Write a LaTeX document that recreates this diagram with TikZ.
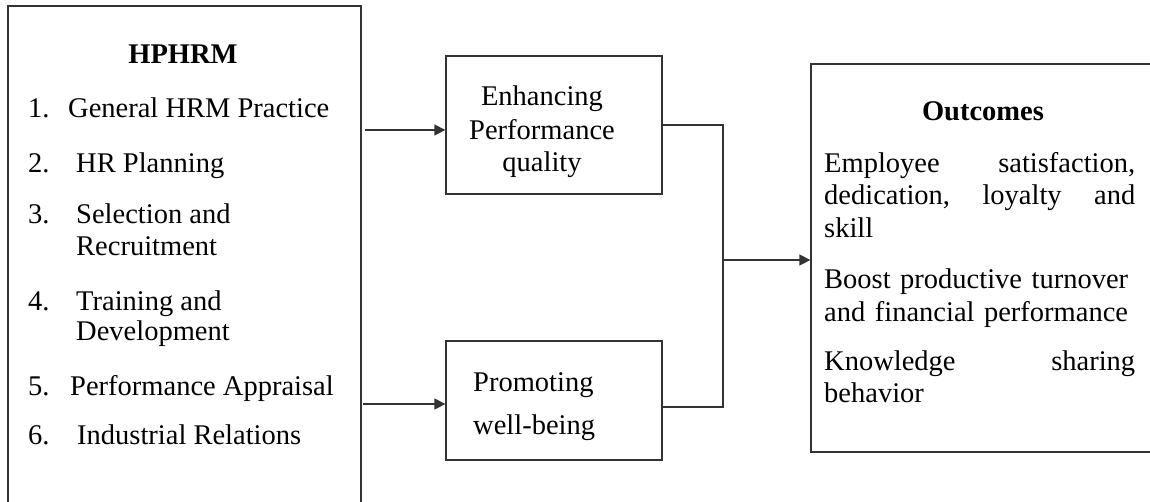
\documentclass[tikz,border=0pt]{standalone}
\usepackage{fontspec}
\setmainfont{Liberation Serif}
\usetikzlibrary{arrows.meta,calc}
\tikzset{
  boxline/.style={draw=black!80, line width=1.3pt},
  boxnode/.style={boxline, rectangle, inner sep=0pt},
  txt/.style={inner sep=0pt, anchor=base west, font=\fontsize{28.5}{33}\selectfont},
  ctxt/.style={inner sep=0pt, anchor=base, font=\fontsize{28.5}{33}\selectfont},
  btxt/.style={inner sep=0pt, anchor=base, font=\fontsize{28.5}{33}\selectfont\bfseries},
  jline/.style={txt, text width=311pt, align=left},
  conn/.style={draw=black!80, line width=1.3pt},
  arr/.style={conn, -{Triangle[length=11pt,width=11pt]}}
}
\begin{document}
\begin{tikzpicture}[x=1pt,y=-1pt]
\clip (0,0) rectangle (1150,501);
\fill[white] (0,0) rectangle (1150,501);
% boxes
\node[boxnode, minimum width=353pt, minimum height=520pt] (hp) at (184.5,266) {};
\node[boxnode, minimum width=216pt, minimum height=138pt] (enh) at (554,125) {};
\node[boxnode, minimum width=216pt, minimum height=119pt] (prom) at (554,400.5) {};
\node[boxnode, minimum width=360pt, minimum height=388pt] (out) at (991,258) {};
% HPHRM text
\node[btxt] (hpt) at (183,63) {HPHRM};
\node[txt] (n1) at (28,117) {1.};
\node[txt] (i1) at (68,117) {General HRM Practice};
\node[txt] (n2) at (28,172) {2.};
\node[txt] (i2) at (76,172) {HR Planning};
\node[txt] (n3) at (28,223) {3.};
\node[txt] (i3a) at (76,223) {Selection and};
\node[txt] (i3b) at (76,255) {Recruitment};
\node[txt] (n4) at (28,310) {4.};
\node[txt] (i4a) at (76,310) {Training and};
\node[txt] (i4b) at (76,340) {Development};
\node[txt] (n5) at (28,395) {5.};
\node[txt] (i5) at (70,395) {Performance Appraisal};
\node[txt] (n6) at (28,444) {6.};
\node[txt] (i6) at (77,444) {Industrial Relations};
% middle texts
\node[ctxt] (e1) at (542,105) {Enhancing};
\node[ctxt] (e2) at (542,139) {Performance};
\node[ctxt] (e3) at (542,171) {quality};
\node[txt] (p1) at (473,391) {Promoting};
\node[txt] (p2) at (473,434) {well-being};
% outcomes
\node[btxt] (ot) at (983,120) {Outcomes};
\node[jline] (o1) at (824,172) {Employee\hfill satisfaction,};
\node[jline] (o2) at (824,204) {dedication,\hfill loyalty\hfill and};
\node[jline] (o3) at (824,237) {skill};
\node[jline] (o4) at (824,288) {Boost productive turnover};
\node[jline] (o5) at (824,321) {and financial performance};
\node[jline] (o6) at (824,370) {Knowledge\hfill sharing};
\node[jline] (o7) at (824,402) {behavior};
% connectors
\coordinate (a1) at (365,130);
\coordinate (a2) at (363,404);
\coordinate (j) at (723,260);
\draw[arr] (a1) -- (a1 -| enh.west);
\draw[arr] (a2) -- (a2 -| prom.west);
\draw[conn] (enh.east) -- (enh.east -| j) -- ($(prom.east -| j)+(0,6.5)$) -- ($(prom.east)+(0,6.5)$);
\draw[arr] (j) -- (j -| out.west);
\end{tikzpicture}
\end{document}
